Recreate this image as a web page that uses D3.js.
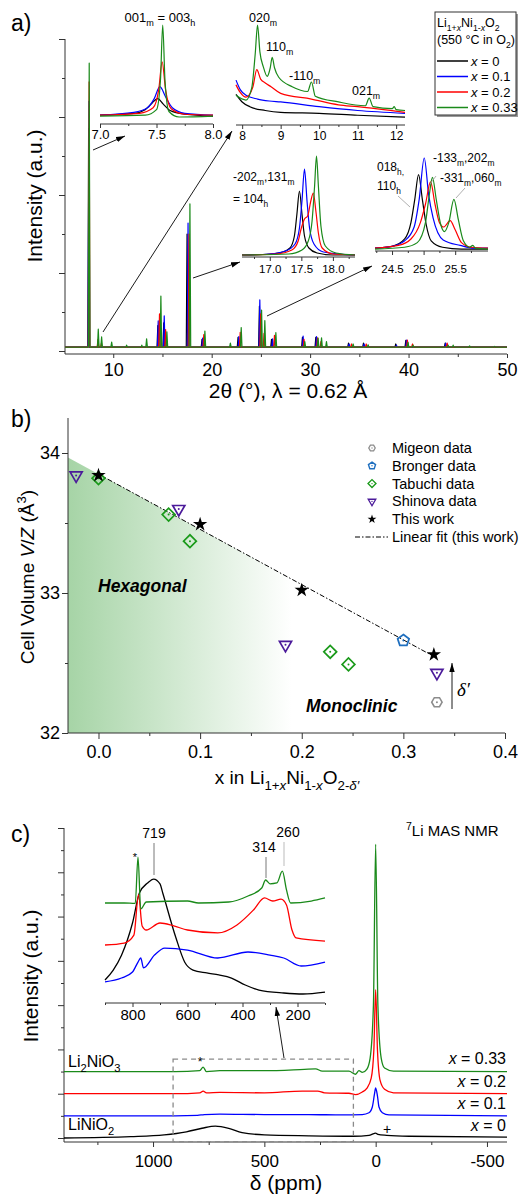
<!DOCTYPE html>
<html>
<head>
<meta charset="utf-8">
<script src="https://cdn.jsdelivr.net/npm/d3@7"></script>
<style>
  body { margin: 0; background: #fff; }
  svg { display: block; }
  text { font-family: "Liberation Sans", Arial, sans-serif; fill: #000; }
</style>
</head>
<body>
<div id="chart"></div>
<script>
// ---------- shared ----------
const seriesLabels = ["x = 0", "x = 0.1", "x = 0.2", "x = 0.33"];
const seriesColors = ["#000000", "#0000ff", "#ff0000", "#1a8a1a"];

// ---------- panel a: XRD (2theta, intensity a.u.) ----------
const xrdBaseline = [0.1, 0.1, 0.1, 0.1];
const xrdPeaksX0 = [[7.5, 5.6], [14.53, 0.55], [15.13, 0.62], [17.5, 2.9], [19.02, 0.2], [22.68, 0.25],
  [24.85, 1.05], [26.08, 0.2], [29.22, 0.25], [30.58, 0.25], [33.9, 0.1], [35.42, 0.1], [38.7, 0.08],
  [39.72, 0.17], [43.72, 0.1]];
const xrdPeaksX01 = [[7.53, 6.3], [8.45, 0.05], [14.57, 0.67], [15.18, 0.8], [17.6, 3.18], [19.08, 0.23],
  [22.76, 0.27], [24.89, 1.21], [26.18, 0.21], [29.29, 0.28], [30.65, 0.27], [33.96, 0.08], [35.48, 0.08],
  [38.77, 0.05], [39.79, 0.18], [43.78, 0.1]];
const xrdPeaksX02 = [[7.55, 6.8], [8.45, 0.2], [8.8, 0.1], [14.7, 0.85], [15.32, 0.45], [17.7, 2.9],
  [19.2, 0.32], [22.9, 0.38], [24.98, 0.85], [25.32, 0.35], [26.38, 0.3], [29.38, 0.2], [30.75, 0.24],
  [31.1, 0.14], [34.2, 0.08], [35.7, 0.08], [39.88, 0.18], [40.4, 0.08], [43.92, 0.1]];
const xrdPeaksX033 = [[7.56, 7.28], [8.48, 0.46], [8.82, 0.26], [9.84, 0.13], [11.36, 0.05], [12.9, 0.05],
  [13.39, 0.21], [14.84, 1.31], [15.45, 0.39], [17.79, 3.67], [19.31, 0.41], [21.9, 0.1], [23.0, 0.5],
  [25.07, 0.95], [25.4, 0.68], [26.52, 0.37], [29.46, 0.14], [30.81, 0.23], [31.16, 0.24], [31.66, 0.14],
  [34.37, 0.08], [35.89, 0.06], [39.95, 0.12], [40.46, 0.05], [44.02, 0.05], [44.53, 0.05], [46.2, 0.03],
  [48.75, 0.02]];

// inset 1: 7.0 - 8.0
const inset1Curves = [
  [[7.0, 0.02], [7.3, 0.04], [7.4, 0.08], [7.46, 0.15], [7.51, 0.2], [7.56, 0.14], [7.62, 0.07], [7.75, 0.03], [8.0, 0.01]],
  [[7.0, 0.02], [7.3, 0.05], [7.42, 0.1], [7.48, 0.2], [7.53, 0.33], [7.58, 0.22], [7.64, 0.1], [7.75, 0.04], [8.0, 0.02]],
  [[7.0, 0.02], [7.35, 0.04], [7.47, 0.1], [7.52, 0.3], [7.55, 0.6], [7.58, 0.3], [7.63, 0.09], [7.75, 0.03], [8.0, 0.02]],
  [[7.0, 0.01], [7.4, 0.02], [7.5, 0.08], [7.535, 0.4], [7.555, 1.0], [7.575, 0.4], [7.61, 0.06], [7.7, 0.0], [8.0, 0.01]]
];
// inset 2: 7.84 - 12.23
const inset2Curves = [
  [[7.84, 0.27], [8.0, 0.19], [8.2, 0.14], [8.6, 0.1], [9.0, 0.08], [10.0, 0.07], [11.0, 0.05], [12.23, 0.03]],
  [[7.84, 0.42], [7.95, 0.32], [8.1, 0.26], [8.4, 0.22], [8.7, 0.2], [9.0, 0.19], [10.0, 0.14], [11.0, 0.1], [12.23, 0.07]],
  [[7.84, 0.37], [7.95, 0.29], [8.1, 0.24], [8.28, 0.35], [8.38, 0.53], [8.48, 0.43], [8.6, 0.39], [8.75, 0.35],
   [9.0, 0.28], [9.8, 0.22], [10.5, 0.16], [11.0, 0.14], [12.23, 0.08]],
  [[7.84, 0.26], [8.1, 0.21], [8.25, 0.34], [8.34, 0.7], [8.4, 1.0], [8.46, 0.72], [8.55, 0.56], [8.65, 0.46],
   [8.73, 0.55], [8.78, 0.66], [8.84, 0.55], [8.95, 0.45], [9.3, 0.35], [9.7, 0.3], [9.8, 0.4], [9.9, 0.25],
   [10.5, 0.19], [11.2, 0.15], [11.3, 0.23], [11.4, 0.14], [11.9, 0.12], [11.95, 0.14], [12.0, 0.11], [12.23, 0.1]]
];
// inset 3: 16.56 - 18.35
const inset3Curves = [
  [[16.56, 0.01], [17.0, 0.02], [17.2, 0.04], [17.32, 0.08], [17.39, 0.2], [17.43, 0.42], [17.47, 0.65],
   [17.51, 0.42], [17.55, 0.2], [17.62, 0.08], [17.75, 0.03], [18.0, 0.01], [18.35, 0.01]],
  [[16.56, 0.01], [17.0, 0.02], [17.25, 0.05], [17.4, 0.12], [17.47, 0.28], [17.51, 0.55], [17.55, 0.87],
   [17.59, 0.55], [17.63, 0.28], [17.7, 0.12], [17.85, 0.04], [18.35, 0.01]],
  [[16.56, 0.01], [17.1, 0.02], [17.35, 0.06], [17.45, 0.15], [17.5, 0.28], [17.55, 0.37], [17.6, 0.4],
   [17.65, 0.55], [17.69, 0.63], [17.73, 0.45], [17.77, 0.23], [17.83, 0.08], [18.0, 0.02], [18.35, 0.01]],
  [[16.56, 0.01], [17.3, 0.02], [17.51, 0.06], [17.61, 0.15], [17.67, 0.35], [17.71, 0.7], [17.74, 1.0],
   [17.77, 0.7], [17.81, 0.3], [17.88, 0.1], [18.05, 0.03], [18.35, 0.01]]
];
// inset 4: 24.23 - 26.02
const inset4Curves = [
  [[24.23, 0.02], [24.5, 0.04], [24.7, 0.12], [24.8, 0.3], [24.86, 0.55], [24.92, 0.82], [24.98, 0.55],
   [25.04, 0.28], [25.12, 0.1], [25.3, 0.03], [25.6, 0.01], [26.02, 0.01]],
  [[24.23, 0.02], [24.5, 0.04], [24.7, 0.1], [24.85, 0.25], [24.93, 0.55], [25.01, 1.0], [25.08, 0.6],
   [25.15, 0.35], [25.31, 0.11], [25.58, 0.05], [25.8, 0.02], [26.02, 0.02]],
  [[24.23, 0.02], [24.6, 0.05], [24.8, 0.12], [24.95, 0.3], [25.03, 0.5], [25.11, 0.74], [25.18, 0.5],
   [25.25, 0.3], [25.32, 0.25], [25.42, 0.32], [25.5, 0.22], [25.6, 0.08], [25.75, 0.03], [26.02, 0.02]],
  [[24.23, 0.01], [24.7, 0.03], [24.9, 0.08], [25.03, 0.3], [25.09, 0.6], [25.14, 0.79], [25.2, 0.55],
   [25.27, 0.28], [25.33, 0.2], [25.4, 0.3], [25.48, 0.55], [25.55, 0.33], [25.63, 0.1], [25.73, 0.03],
   [25.78, 0.05], [25.82, 0.02], [26.02, 0.01]]
];

// ---------- panel b: cell volume vs x ----------
const migeonData = [[0.333, 32.22]];
const brongerData = [[0.3, 32.66]];
const tabuchiData = [[0, 33.82], [0.069, 33.56], [0.09, 33.37], [0.228, 32.58], [0.246, 32.49]];
const shinovaData = [[-0.022, 33.84], [0.079, 33.6], [0.184, 32.63], [0.333, 32.43]];
const thisWorkData = [[0, 33.84], [0.1, 33.49], [0.2, 33.02], [0.33, 32.56]];

// ---------- panel c: 7Li MAS NMR (ppm, a.u.) ----------
const nmrX0 = [[1400, 0.0], [1100, 0.03], [950, 0.07], [850, 0.14], [780, 0.22], [720, 0.27], [660, 0.22],
  [600, 0.12], [500, 0.07], [300, 0.05], [100, 0.04], [30, 0.06], [8, 0.1], [0, 0.11], [-10, 0.08],
  [-50, 0.06], [-150, 0.04], [-590, 0.02]];
const nmrX01 = [[1400, 0.5], [900, 0.5], [800, 0.51], [770, 0.53], [700, 0.54], [500, 0.53], [300, 0.53],
  [150, 0.52], [60, 0.53], [30, 0.57], [15, 0.7], [5, 1.0], [0, 1.13], [-8, 0.95], [-15, 0.7], [-30, 0.57],
  [-60, 0.52], [-590, 0.5]];
const nmrX02 = [[1400, 1.0], [900, 1.0], [790, 1.02], [775, 1.06], [760, 1.02], [700, 1.03], [500, 1.02],
  [330, 1.06], [260, 1.06], [230, 1.02], [120, 1.01], [90, 0.98], [60, 1.04], [40, 1.12], [20, 1.35],
  [8, 2.0], [0, 3.35], [-8, 2.0], [-20, 1.3], [-40, 1.1], [-80, 1.02], [-590, 1.0]];
const nmrX033 = [[1400, 1.5], [900, 1.5], [790, 1.52], [775, 1.6], [760, 1.5], [700, 1.52], [500, 1.52],
  [320, 1.55], [270, 1.56], [240, 1.51], [120, 1.51], [90, 1.44], [75, 1.52], [60, 1.48], [40, 1.55],
  [25, 1.8], [10, 3.0], [0, 6.63], [-10, 3.0], [-25, 1.8], [-40, 1.58], [-80, 1.51], [-590, 1.5]];

// inset (900 - 100 ppm)
const nmrInsetX0 = [[900, 1.43], [870, 2.14], [840, 3.2], [800, 5.5], [775, 7.64], [745, 8.36], [723, 8.64],
  [700, 8.29], [690, 7.64], [643, 4.5], [610, 2.7], [580, 2.14], [530, 1.93], [486, 1.79], [440, 1.57],
  [390, 1.07], [340, 0.71], [250, 0.5], [180, 0.43], [100, 0.57]];
const nmrInsetX01 = [[900, 1.29], [840, 1.57], [800, 2.0], [780, 2.71], [770, 3.0], [760, 2.29], [720, 3.21],
  [683, 3.71], [600, 3.57], [490, 3.0], [380, 3.43], [300, 3.21], [250, 3.0], [187, 2.43], [100, 2.71]];
const nmrInsetX02 = [[900, 3.93], [830, 4.07], [795, 4.64], [778, 7.5], [765, 5.29], [750, 5.0], [700, 5.5],
  [650, 5.29], [600, 5.0], [490, 4.79], [420, 5.36], [360, 6.43], [320, 7.29], [290, 7.07], [260, 7.21],
  [240, 6.79], [220, 5.0], [205, 4.43], [100, 4.21]];
const nmrInsetX033 = [[900, 6.93], [830, 6.93], [790, 6.9], [780, 10.2], [770, 6.5], [750, 7.0], [600, 7.07],
  [560, 6.93], [450, 7.0], [380, 7.43], [330, 8.0], [316, 8.57], [300, 8.3], [275, 8.36], [255, 9.2],
  [240, 7.86], [225, 6.93], [150, 7.07], [100, 7.29]];
const nmrZoomBox = {from: 910, to: 100, low: -0.08, high: 1.78};

// ---------- helpers ----------
const svg = d3.select("#chart").append("svg").attr("width", 521).attr("height", 1196);

const defs = svg.append("defs");
defs.append("marker").attr("id", "arr").attr("viewBox", "0 0 10 6")
    .attr("refX", 10).attr("refY", 3).attr("markerWidth", 9).attr("markerHeight", 6)
    .attr("markerUnits", "userSpaceOnUse").attr("orient", "auto")
  .append("path").attr("d", "M0,0 L10,3 L0,6 Z").attr("fill", "#000");

// text with sub/superscript/italic tspans: parts = [text, flags] (b=sub, p=sup, i=italic)
function rich(parent, x, y, parts, fs, anchor) {
  const t = parent.append("text").attr("x", x).attr("y", y)
      .attr("font-size", fs).attr("text-anchor", anchor || "start");
  let off = 0;
  parts.forEach(p => {
    const [s, k] = Array.isArray(p) ? [p[0], p[1] || ""] : [p, ""];
    let target = 0, size = fs;
    if (k.includes("b")) { target = fs * 0.3; size = fs * 0.7; }
    if (k.includes("p")) { target = -fs * 0.4; size = fs * 0.7; }
    const ts = t.append("tspan").attr("dy", target - off).attr("font-size", size).text(s);
    if (k.includes("i")) ts.attr("font-style", "italic");
    off = target;
  });
  return t;
}

function drawAxis(parent, scale, orient, pos, majors, minors, o) {
  const mk = orient === "bottom" ? d3.axisBottom : d3.axisLeft;
  const tr = orient === "bottom" ? `translate(0,${pos})` : `translate(${pos},0)`;
  const gMin = parent.append("g").attr("transform", tr)
      .call(mk(scale).tickValues(minors).tickSize(o.minor).tickFormat(""));
  const gMaj = parent.append("g").attr("transform", tr)
      .call(mk(scale).tickValues(majors).tickSize(o.major).tickPadding(o.pad || 3).tickFormat(o.fmt || (() => "")));
  [gMin, gMaj].forEach(g => {
    g.select(".domain").remove();
    g.attr("font-size", o.fs || 12).attr("font-family", null);
    g.selectAll("line").attr("stroke", "#333").attr("stroke-width", o.sw || 1);
  });
  const [a, b] = o.extent || scale.range();
  const line = parent.append("line").attr("stroke", "#333").attr("stroke-width", o.sw || 1);
  if (orient === "bottom") line.attr("x1", a).attr("x2", b).attr("y1", pos).attr("y2", pos);
  else line.attr("y1", a).attr("y2", b).attr("x1", pos).attr("x2", pos);
  return gMaj;
}

function drawCurves(parent, sx, sy, curves, curve, sw) {
  const line = d3.line().x(d => sx(d[0])).y(d => sy(d[1])).curve(curve || d3.curveMonotoneX);
  curves.forEach((c, i) => {
    parent.append("path").datum(c).attr("d", line).attr("fill", "none")
      .attr("stroke", seriesColors[i]).attr("stroke-width", sw || 1.2).attr("stroke-linejoin", "round");
  });
}

function arrow(x1, y1, x2, y2) {
  svg.append("line").attr("x1", x1).attr("y1", y1).attr("x2", x2).attr("y2", y2)
    .attr("stroke", "#000").attr("stroke-width", 0.9).attr("marker-end", "url(#arr)");
}

function leader(x1, y1, x2, y2, color) {
  svg.append("line").attr("x1", x1).attr("y1", y1).attr("x2", x2).attr("y2", y2)
    .attr("stroke", color || "#9a9a9a").attr("stroke-width", 0.8);
}

// ================= panel a =================
const xA = d3.scaleLinear().domain([5.1, 50]).range([65, 507]);
const yA = d3.scaleLinear().domain([0, 8]).range([351, 39]);

svg.append("text").attr("x", 11).attr("y", 31).attr("font-size", 23).text("a)");

drawAxis(svg, yA, "left", 65, [0, 2, 4, 6, 8], [1, 3, 5, 7], {major: 6, minor: 3, extent: [39, 354]});
drawAxis(svg, xA, "bottom", 354, [10, 20, 30, 40, 50], [15, 25, 35, 45], {major: 4, minor: 3, pad: 5, fs: 18, fmt: d3.format("d"), extent: [65, 507]});
svg.append("text").attr("transform", "translate(42,196) rotate(-90)").attr("text-anchor", "middle")
  .attr("font-size", 21).text("Intensity (a.u.)");
svg.append("text").attr("x", 288).attr("y", 398).attr("text-anchor", "middle").attr("font-size", 21)
  .text("2\u03b8 (\u00b0), \u03bb = 0.62 \u00c5");

const xrdPeaks = [xrdPeaksX0, xrdPeaksX01, xrdPeaksX02, xrdPeaksX033];
const xrdLine = d3.line().x(d => xA(d[0])).y(d => yA(d[1]));
xrdPeaks.forEach((peaks, i) => {
  const base = xrdBaseline[i];
  const pts = [[xA.domain()[0], base]];
  peaks.slice().sort((a, b) => a[0] - b[0]).forEach(([p, h]) => {
    pts.push([p - 0.08, base], [p, base + h], [p + 0.08, base]);
  });
  pts.push([xA.domain()[1], base]);
  svg.append("path").datum(pts).attr("d", xrdLine).attr("fill", "none")
    .attr("stroke", seriesColors[i]).attr("stroke-width", 1.2).attr("stroke-linejoin", "round");
});

// insets
function xrdInset(curves, xDom, xRng, yRng, axisY, ticks, minors, fmt, fs, labelY) {
  const sx = d3.scaleLinear().domain(xDom).range(xRng);
  const sy = d3.scaleLinear().domain([0, 1]).range(yRng);
  const g = svg.append("g");
  drawCurves(g, sx, sy, curves, d3.curveMonotoneX, 1.2);
  const ax = drawAxis(g, sx, "bottom", axisY, ticks, minors, {major: 4, minor: 2, fs: fs, fmt: fmt, pad: 2});
  ax.selectAll("text").attr("y", labelY - axisY).attr("dy", 0);
  return sx;
}
xrdInset(inset1Curves, [7.0, 8.0], [100, 213], [117, 25], 124, [7.0, 7.5, 8.0], [7.25, 7.75], d3.format(".1f"), 13, 139);
xrdInset(inset2Curves, [7.84, 12.23], [236, 405], [120, 25], 125, [8, 9, 10, 11, 12], [8.5, 9.5, 10.5, 11.5], d3.format("d"), 12, 140);
xrdInset(inset3Curves, [16.56, 18.35], [242, 355], [256, 156], 257, [17.0, 17.5, 18.0], [16.75, 17.25, 17.75, 18.25], d3.format(".1f"), 11.5, 273);
xrdInset(inset4Curves, [24.23, 26.02], [375, 488], [250, 158], 251, [24.5, 25.0, 25.5], [24.25, 24.75, 25.25, 25.75], d3.format(".1f"), 11.5, 273);

// inset labels
rich(svg, 160, 22, ["001", ["m", "b"], " = 003", ["h", "b"]], 13, "middle");
rich(svg, 249, 22, ["020", ["m", "b"]], 12.5);
rich(svg, 266, 51, ["110", ["m", "b"]], 12.5);
rich(svg, 289, 80, ["-110", ["m", "b"]], 12.5);
rich(svg, 352, 95, ["021", ["m", "b"]], 12.5);
rich(svg, 233, 181, ["-202", ["m", "b"], ",131", ["m", "b"]], 12);
rich(svg, 233, 203, ["= 104", ["h", "b"]], 12);
rich(svg, 377, 171, ["018", ["h,", "b"]], 12);
rich(svg, 377, 190, ["110", ["h", "b"]], 12);
rich(svg, 433, 162, ["-133", ["m", "b"], ",202", ["m", "b"]], 12);
rich(svg, 440, 182, ["-331", ["m", "b"], ",060", ["m", "b"]], 12);
leader(398, 196, 410, 207);
leader(436, 176, 430, 184);
leader(465, 188, 456, 198);

// arrows from main peaks to insets
arrow(93, 150, 125, 136);
arrow(103, 332, 232, 131);
arrow(193, 278, 240, 262);
arrow(267, 316, 372, 266);

// legend
const legA = svg.append("g");
legA.append("rect").attr("x", 437).attr("y", 14).attr("width", 81).attr("height", 103).attr("fill", "#999");
legA.append("rect").attr("x", 435).attr("y", 12).attr("width", 81).attr("height", 103)
  .attr("fill", "#fff").attr("stroke", "#333").attr("stroke-width", 1);
rich(legA, 437, 27, ["Li", ["1+", "b"], ["x", "bi"], "Ni", ["1-", "b"], ["x", "bi"], "O", ["2", "b"]], 12.5);
rich(legA, 437, 44, ["(550 \u00b0C in O", ["2", "b"], ")"], 12.5);
seriesLabels.forEach((s, i) => {
  const yy = 61 + i * 15.5;
  legA.append("line").attr("x1", 437).attr("x2", 468).attr("y1", yy).attr("y2", yy)
    .attr("stroke", seriesColors[i]).attr("stroke-width", 1.5);
  rich(legA, 471, yy + 4.5, [["x", "i"], s.slice(1)], 13);
});

// ================= panel b =================
const xB = d3.scaleLinear().domain([-0.03, 0.4]).range([68, 505]);
const yB = d3.scaleLinear().domain([32, 34]).range([733, 453]);

svg.append("text").attr("x", 11).attr("y", 427).attr("font-size", 23).text("b)");

// linear fit of this work
const fitX = thisWorkData.map(d => d[0]), fitY = thisWorkData.map(d => d[1]);
const mx = d3.mean(fitX), my = d3.mean(fitY);
const slope = d3.sum(thisWorkData, d => (d[0] - mx) * (d[1] - my)) / d3.sum(fitX, v => (v - mx) ** 2);
const fit = x => my + slope * (x - mx);

// hexagonal region gradient
const grad = defs.append("linearGradient").attr("id", "hexGrad")
  .attr("gradientUnits", "userSpaceOnUse").attr("x1", xB(-0.03)).attr("x2", xB(0.19)).attr("y1", 0).attr("y2", 0);
grad.append("stop").attr("offset", 0).attr("stop-color", "#a6d4a6");
grad.append("stop").attr("offset", 1).attr("stop-color", "#ffffff");
const shade = [[-0.03, fit(-0.03)], [0.25, fit(0.25)], [0.25, 32], [-0.03, 32]];
svg.append("path").datum(shade)
  .attr("d", d3.line().x(d => xB(d[0])).y(d => yB(d[1])).curve(d3.curveLinearClosed))
  .attr("fill", "url(#hexGrad)");

drawAxis(svg, yB, "left", 68, [32, 33, 34], [32.5, 33.5], {major: 6, minor: 3, pad: 2, fs: 18, fmt: d3.format("d"), extent: [418, 733]});
drawAxis(svg, xB, "bottom", 733, [0, 0.1, 0.2, 0.3, 0.4], [0.05, 0.15, 0.25, 0.35], {major: 6, minor: 3, pad: 6, fs: 18, fmt: d3.format(".1f"), extent: [68, 505]});

svg.append("g").attr("transform", "translate(27,577) rotate(-90)").call(g =>
  rich(g, 0, 7, ["Cell Volume ", ["V", "i"], "/", ["Z", "i"], " (\u00c5", ["3", "p"], ")"], 19, "middle"));
rich(svg, 287, 784, ["x in Li", ["1+", "b"], ["x", "bi"], "Ni", ["1-", "b"], ["x", "bi"], "O", ["2-", "b"], ["\u03b4\u2032", "bi"]], 19, "middle");

svg.append("path").datum([[0, fit(0)], [0.33, fit(0.33)]])
  .attr("d", d3.line().x(d => xB(d[0])).y(d => yB(d[1])))
  .attr("stroke", "#000").attr("stroke-width", 1).attr("stroke-dasharray", "5,2,1.5,2").attr("fill", "none");

// marker shapes
function poly(n, r, rot) {
  return d3.line().curve(d3.curveLinearClosed)(d3.range(n).map(i => {
    const a = rot + i * 2 * Math.PI / n;
    return [r * Math.cos(a), r * Math.sin(a)];
  }));
}
const markerDefs = [
  {name: "Migeon data", data: migeonData, color: "#8c8c8c", path: s => poly(6, 5.2 * s, 0), sw: 1.6},
  {name: "Bronger data", data: brongerData, color: "#1f6fbf", path: s => poly(5, 6 * s, -Math.PI / 2), sw: 1.8},
  {name: "Tabuchi data", data: tabuchiData, color: "#1a9a1a", path: s => poly(4, 6.4 * s, 0), sw: 1.7},
  {name: "Shinova data", data: shinovaData, color: "#4b1a9a", path: s => poly(3, 7 * s, Math.PI / 2), sw: 1.7},
  {name: "This work", data: thisWorkData, color: "#000", path: s => d3.symbol(d3.symbolStar, 64 * s * s)(), fill: true}
];
markerDefs.forEach(m => {
  const g = svg.append("g");
  m.data.forEach(([x, y]) => {
    const c = g.append("g").attr("transform", `translate(${xB(x)},${yB(y)})`);
    c.append("path").attr("d", m.path(1))
      .attr("fill", m.fill ? m.color : "none").attr("stroke", m.fill ? "none" : m.color).attr("stroke-width", m.sw);
    if (!m.fill) c.append("circle").attr("r", 1).attr("fill", m.color);
  });
});

// legend b
markerDefs.forEach((m, i) => {
  const yy = 448 + i * 17.8;
  const c = svg.append("g").attr("transform", `translate(372,${yy})`);
  c.append("path").attr("d", m.path(0.62))
    .attr("fill", m.fill ? m.color : "none").attr("stroke", m.fill ? "none" : m.color).attr("stroke-width", m.sw * 0.8);
  if (!m.fill) c.append("circle").attr("r", 0.7).attr("fill", m.color);
  svg.append("text").attr("x", 392).attr("y", yy + 5).attr("font-size", 14.5).text(m.name);
});
svg.append("line").attr("x1", 355).attr("x2", 388).attr("y1", 537).attr("y2", 537)
  .attr("stroke", "#000").attr("stroke-width", 1).attr("stroke-dasharray", "5,2,1.5,2");
svg.append("text").attr("x", 392).attr("y", 542).attr("font-size", 14.5).text("Linear fit (this work)");

svg.append("text").attr("x", 98).attr("y", 592).attr("font-size", 17.5).attr("font-weight", "bold")
  .attr("font-style", "italic").text("Hexagonal");
svg.append("text").attr("x", 306).attr("y", 712).attr("font-size", 17.5).attr("font-weight", "bold")
  .attr("font-style", "italic").text("Monoclinic");
arrow(452, 709, 452, 663);
svg.append("text").attr("x", 457).attr("y", 696).attr("font-size", 19).attr("font-style", "italic")
  .style("font-family", "'Liberation Serif', serif").text("\u03b4\u2032");

// ================= panel c =================
const xC = d3.scaleLinear().domain([1400, -590]).range([64, 507]);
const yC = d3.scaleLinear().domain([0, 7]).range([1138, 828]);

svg.append("text").attr("x", 11).attr("y", 842).attr("font-size", 23).text("c)");

drawAxis(svg, yC, "left", 64, d3.range(0, 8, 1), d3.range(0.5, 7, 1), {major: 6, minor: 3, extent: [828, 1142]});
drawAxis(svg, xC, "bottom", 1142, [1000, 500, 0, -500], [1250, 750, 250, -250], {major: 5, minor: 3, pad: 8, fs: 17, fmt: d => String(d), extent: [64, 507]});
svg.append("text").attr("transform", "translate(38,976) rotate(-90)").attr("text-anchor", "middle")
  .attr("font-size", 21).text("Intensity (a.u.)");
svg.append("text").attr("x", 286).attr("y", 1190).attr("text-anchor", "middle").attr("font-size", 21)
  .text("\u03b4 (ppm)");

drawCurves(svg, xC, yC, [nmrX0, nmrX01, nmrX02, nmrX033], d3.curveMonotoneX, 1.3);

// zoom box and arrow to inset
svg.append("rect")
  .attr("x", xC(nmrZoomBox.from)).attr("y", yC(nmrZoomBox.high))
  .attr("width", xC(nmrZoomBox.to) - xC(nmrZoomBox.from)).attr("height", yC(nmrZoomBox.low) - yC(nmrZoomBox.high))
  .attr("fill", "none").attr("stroke", "#8a8a8a").attr("stroke-width", 1.3).attr("stroke-dasharray", "5,4");
arrow(284, 1058, 276, 1007);

// series labels
const nmrRight = [1131, 1109, 1087, 1064];
seriesLabels.forEach((s, i) => {
  rich(svg, 506, nmrRight[i], [["x", "i"], s.slice(1)], 16, "end");
});
rich(svg, 68, 1067, ["Li", ["2", "b"], "NiO", ["3", "b"]], 16);
rich(svg, 68, 1130, ["LiNiO", ["2", "b"]], 16);
svg.append("text").attr("x", 200).attr("y", 1066).attr("font-size", 12).attr("text-anchor", "middle").text("*");
svg.append("text").attr("x", 387).attr("y", 1134).attr("font-size", 14).attr("text-anchor", "middle").text("+");
rich(svg, 406, 836, [["7", "p"], "Li MAS NMR"], 15);

// inset c
const xCi = d3.scaleLinear().domain([900, 100]).range([105, 325]);
const yCi = d3.scaleLinear().domain([0, 10]).range([1000, 860]);
drawCurves(svg, xCi, yCi, [nmrInsetX0, nmrInsetX01, nmrInsetX02, nmrInsetX033], d3.curveMonotoneX, 1.3);
const axCi = drawAxis(svg, xCi, "bottom", 1003, [800, 600, 400, 200], [900, 700, 500, 300, 100], {major: 4, minor: 2, fs: 15, fmt: d3.format("d")});
axCi.selectAll("text").attr("y", 17).attr("dy", 0);

svg.append("text").attr("x", 154).attr("y", 838).attr("font-size", 14).attr("text-anchor", "middle").text("719");
svg.append("text").attr("x", 264).attr("y", 852).attr("font-size", 14).attr("text-anchor", "middle").text("314");
svg.append("text").attr("x", 288).attr("y", 837).attr("font-size", 14).attr("text-anchor", "middle").text("260");
leader(154, 843, 154, 875, "#555");
leader(266, 857, 266, 878, "#555");
leader(284, 842, 284, 866, "#aaa");
svg.append("text").attr("x", 135).attr("y", 861).attr("font-size", 11).attr("text-anchor", "middle").text("*");
</script>
</body>
</html>
